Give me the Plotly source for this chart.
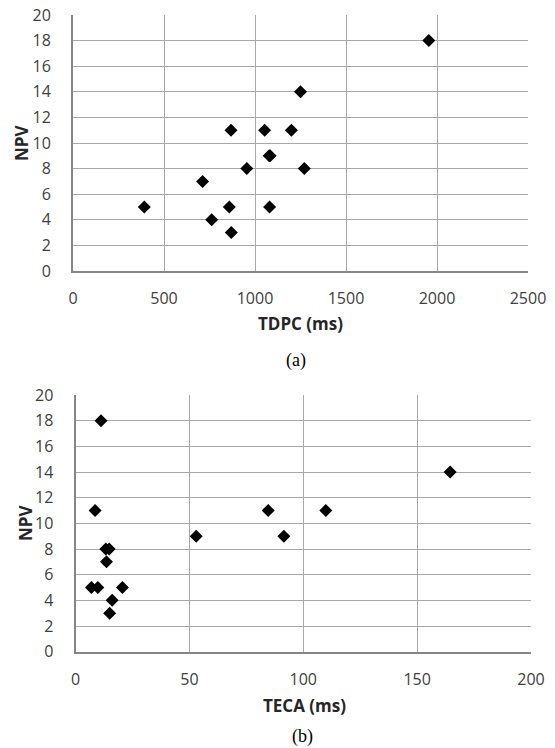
import plotly.graph_objects as go

# Panel (a): TDPC vs NPV
tdpc_ms = [1955, 1250, 868, 1053, 1200, 1078, 1083, 955, 1271, 712, 392, 859, 1080, 762, 870]
npv_a = [18, 14, 11, 11, 11, 9, 9, 8, 8, 7, 5, 5, 5, 4, 3]

# Panel (b): TECA vs NPV
teca_ms = [11.2, 164.5, 8.6, 84.6, 109.9, 53, 91.5, 13.3, 14.8, 13.6, 7.0, 9.8, 20.6, 16.1, 15.0]
npv_b = [18, 14, 11, 11, 11, 9, 9, 8, 8, 7, 5, 5, 5, 4, 3]

x_ticks_a = [0, 500, 1000, 1500, 2000, 2500]
x_ticks_b = [0, 50, 100, 150, 200]
y_ticks = [0, 2, 4, 6, 8, 10, 12, 14, 16, 18, 20]

W, H = 555, 748
OFF = 8  # page body margin offset
def px(x):
    return (x - OFF) / W
def py(y):
    return 1 - (y - OFF) / H

marker = dict(symbol="diamond", size=10, color="#000000")

fig = go.Figure()
fig.add_trace(go.Scatter(x=tdpc_ms, y=npv_a, mode="markers", marker=marker,
                         xaxis="x", yaxis="y", showlegend=False))
fig.add_trace(go.Scatter(x=teca_ms, y=npv_b, mode="markers", marker=marker,
                         xaxis="x2", yaxis="y2", showlegend=False))

tick_font = dict(family="Open Sans, Noto Sans, sans-serif", size=16, color="#404040")
grid_col = "#A8A8A8"
axis_col = "#868686"

common_x = dict(showgrid=True, gridcolor=grid_col, gridwidth=1, zeroline=False,
                showline=True, linecolor=axis_col, linewidth=2, automargin=False,
                ticks="", tickfont=tick_font, ticklabelstandoff=12,
                ticklabeloverflow="allow")
common_y = dict(showgrid=True, gridcolor=grid_col, gridwidth=1, zeroline=False,
                showline=True, linecolor=axis_col, linewidth=2, automargin=False,
                ticks="", tickfont=tick_font, ticklabelstandoff=17,
                ticklabeloverflow="allow",
                range=[0, 20], tickvals=y_ticks)

fig.update_layout(
    width=W, height=H,
    margin=dict(l=0, r=0, t=0, b=0),
    paper_bgcolor="white", plot_bgcolor="white",
    xaxis=dict(domain=[px(73), px(528)], anchor="y", range=[0, 2500],
               tickvals=x_ticks_a, **common_x),
    yaxis=dict(domain=[py(271), py(15)], anchor="x", **common_y),
    xaxis2=dict(domain=[px(75.5), px(531)], anchor="y2", range=[0, 200],
                tickvals=x_ticks_b, **common_x),
    yaxis2=dict(domain=[py(651.7), py(395)], anchor="x2", **common_y),
)

title_font = dict(family="Open Sans, Noto Sans, sans-serif", size=17, color="#262626")
cap_font = dict(family="Liberation Serif, Times New Roman, serif", size=18, color="#000000")

annos = [
    dict(text="<b>TDPC (ms)</b>", x=px(300), y=py(323), font=title_font),
    dict(text="<b>NPV</b>", x=px(22), y=py(143), font=title_font, textangle=-90),
    dict(text="(a)", x=px(296), y=py(360), font=cap_font),
    dict(text="<b>TECA (ms)</b>", x=px(304), y=py(705), font=title_font),
    dict(text="<b>NPV</b>", x=px(25), y=py(523), font=title_font, textangle=-90),
    dict(text="(b)", x=px(302), y=py(736), font=cap_font),
]
for a in annos:
    fig.add_annotation(xref="paper", yref="paper", showarrow=False,
                       xanchor="center", yanchor="middle", **a)

fig.write_html("out.html")
